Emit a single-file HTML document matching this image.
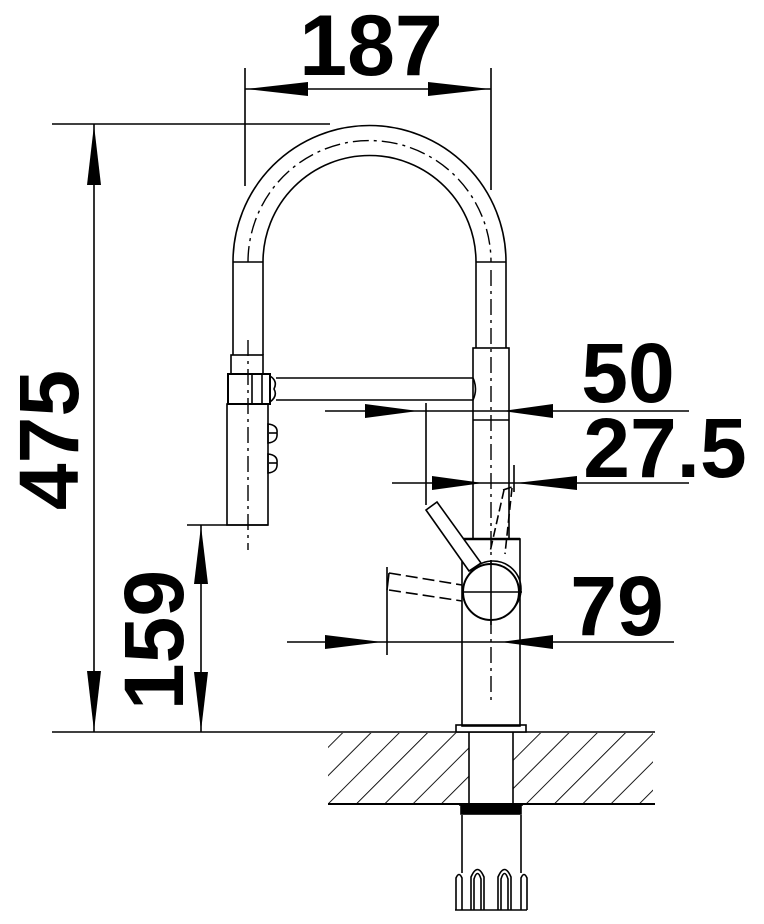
<!DOCTYPE html>
<html><head><meta charset="utf-8"><style>
html,body{margin:0;padding:0;background:#fff;}
svg{display:block}
text{font-family:"Liberation Sans",Arial,sans-serif;font-weight:bold;fill:#000}
</style></head><body>
<svg width="764" height="924" viewBox="0 0 764 924" xmlns="http://www.w3.org/2000/svg">
<defs>
<pattern id="h" patternUnits="userSpaceOnUse" width="20" height="20" patternTransform="rotate(45)">
<line x1="0" y1="0" x2="0" y2="20" stroke="#000" stroke-width="1.8"/>
</pattern>
</defs>
<g fill="none" stroke="#000" stroke-width="1.6">
<rect x="328" y="733" width="141" height="71" fill="url(#h)" stroke="none"/>
<rect x="513" y="733" width="140" height="71" fill="url(#h)" stroke="none"/>
<line x1="52" y1="732" x2="655" y2="732"/>
<line x1="328" y1="804" x2="655" y2="804" stroke-width="2"/>
<line x1="469" y1="732" x2="469" y2="804"/>
<line x1="513" y1="732" x2="513" y2="804"/>
<rect x="456" y="725" width="70" height="7" fill="#fff"/>
<rect x="461" y="806" width="60" height="8" fill="#000"/>
<line x1="459" y1="805" x2="523" y2="805"/>
<line x1="462" y1="815" x2="462" y2="873"/>
<line x1="521" y1="815" x2="521" y2="873"/>
<path d="M455 910 L527 910 M456 910 V878 Q459 871 462 878 V910 M521 910 V878 Q524 871 527 878 V910"/>
<path d="M471 910 V877 Q477.5 862 484 877 V910 M474 910 V879 Q477.5 868 481 879 V910"/>
<path d="M498 910 V877 Q504.5 862 511 877 V910 M501 910 V879 Q504.5 868 508 879 V910"/>
<path d="M233 262 A136.5 136.5 0 0 1 506 262"/>
<path d="M263 262 A106.5 106.5 0 0 1 476 262"/>
<path d="M248 262 A121.5 121.5 0 0 1 491 262" stroke-dasharray="16 5 3 5" stroke-width="1.4"/>
<line x1="233" y1="262" x2="263" y2="262"/><line x1="476" y1="262" x2="506" y2="262"/>
<line x1="233" y1="262" x2="233" y2="355"/><line x1="263" y1="262" x2="263" y2="355"/>
<line x1="476" y1="262" x2="476" y2="348"/><line x1="506" y1="262" x2="506" y2="348"/>
<rect x="231" y="355" width="32" height="19"/>
<rect x="228" y="374" width="42" height="30" stroke-width="2"/>
<line x1="252" y1="374" x2="252" y2="404"/><line x1="262" y1="374" x2="262" y2="404"/>
<path d="M270 376 Q278 381 274 389 Q278 396 270 402"/>
<rect x="227" y="404" width="41" height="121"/>
<path d="M268 424 Q278 425 277 433 Q278 442 268 443 Z M268 454 Q278 455 277 463 Q278 472 268 473 Z"/>
<line x1="269" y1="433" x2="277" y2="433"/><line x1="269" y1="463" x2="277" y2="463"/>
<line x1="248" y1="340" x2="248" y2="550" stroke-dasharray="16 5 3 5" stroke-width="1.4"/>
<line x1="276" y1="378" x2="473" y2="378"/><line x1="276" y1="400" x2="473" y2="400"/>
<path d="M473 378 Q478 389 473 400"/>
<rect x="473" y="348" width="36" height="191"/>
<line x1="473" y1="420" x2="509" y2="420"/>
<line x1="491" y1="270" x2="491" y2="700" stroke-dasharray="16 5 3 5" stroke-width="1.4"/>
<rect x="462" y="539" width="58" height="187"/>
<line x1="462" y1="539" x2="520" y2="539" stroke-width="2.5"/>
<polygon points="426,510 437,502 481,563 469,571" fill="#fff"/>
<path d="M504 490 L490 552 M512 488 L505 554 M503 490 L512 487" stroke-dasharray="9 4"/>
<path d="M389 573 L462 585 M389 590 L462 601" stroke-dasharray="12 5"/>
<line x1="389" y1="573" x2="387" y2="590"/>
<circle cx="493" cy="589" r="28"/>
<circle cx="491" cy="592" r="28" fill="#fff" stroke-width="2"/>
<line x1="462" y1="592" x2="522" y2="592"/>
<line x1="491" y1="560" x2="491" y2="625"/>
<line x1="245" y1="68" x2="245" y2="186"/><line x1="491" y1="68" x2="491" y2="190"/>
<line x1="245" y1="89" x2="491" y2="89"/>
<line x1="52" y1="124" x2="330" y2="124"/>
<line x1="94" y1="124" x2="94" y2="732"/>
<line x1="187" y1="525" x2="268" y2="525"/>
<line x1="201" y1="525" x2="201" y2="732"/>
<line x1="325" y1="411" x2="689" y2="411"/>
<line x1="426" y1="403" x2="426" y2="505"/>
<line x1="392" y1="483" x2="689" y2="483"/>
<line x1="514" y1="465" x2="514" y2="492"/>
<line x1="287" y1="642" x2="674" y2="642"/>
<line x1="387" y1="567" x2="387" y2="655"/>
</g>
<g fill="#000">
<polygon points="246,89 308,82 308,96"/><polygon points="490,89 428,82 428,96"/>
<polygon points="94,125 87,185 101,185"/><polygon points="94,731 87,671 101,671"/>
<polygon points="201,526 194,584 208,584"/><polygon points="201,731 194,672 208,672"/>
<polygon points="418,411 365,404 365,418"/><polygon points="503,411 553,404 553,418"/>
<polygon points="483,483 432,476 432,490"/><polygon points="516,483 577,476 577,490"/>
<polygon points="382,642 325,635 325,649"/><polygon points="501,642 553,635 553,649"/>
</g>
<text x="371" y="75" font-size="86" text-anchor="middle">187</text>
<text x="628" y="402" font-size="84" text-anchor="middle">50</text>
<text x="665" y="477" font-size="84" text-anchor="middle">27.5</text>
<text x="617" y="635" font-size="84" text-anchor="middle">79</text>
<text transform="translate(78,440) rotate(-90)" font-size="84" text-anchor="middle">475</text>
<text transform="translate(183,640) rotate(-90)" font-size="84" text-anchor="middle">159</text>
</svg>
</body></html>
